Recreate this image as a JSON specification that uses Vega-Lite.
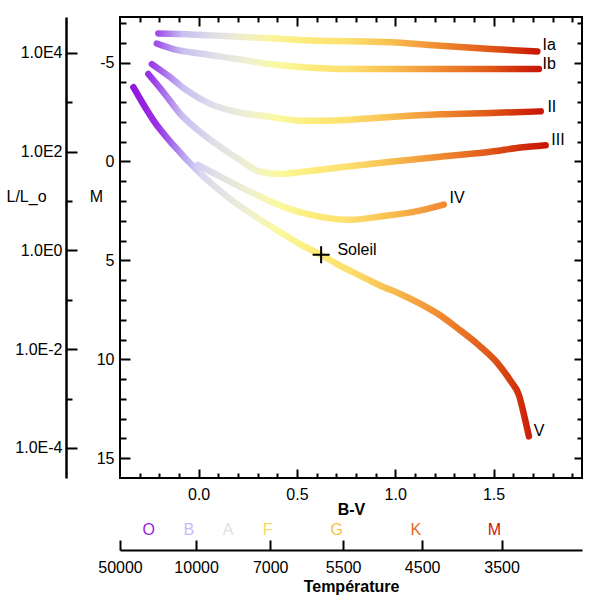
{
  "$schema": "https://vega.github.io/schema/vega-lite/v6.json",
  "width": 462,
  "height": 461,
  "autosize": {"type": "none"},
  "padding": {"left": 120, "top": 17, "right": 18, "bottom": 122},
  "config": {
    "font": "Liberation Sans",
    "view": {"stroke": "black", "strokeWidth": 2},
    "axis": {"labelColor": "black", "titleColor": "black", "tickColor": "black", "domainColor": "black", "labelFontSize": 16, "titleFontSize": 16, "grid": false, "labelFlush": false, "labelOverlap": false, "tickWidth": 2}
  },
  "datasets": {
    "curves": [
      {"cls": "Ia", "bv": -0.205, "M": -6.47}, {"cls": "Ia", "bv": -0.06, "M": -6.43}, {"cls": "Ia", "bv": 0.11, "M": -6.35}, {"cls": "Ia", "bv": 0.279, "M": -6.27}, {"cls": "Ia", "bv": 0.449, "M": -6.18}, {"cls": "Ia", "bv": 0.619, "M": -6.1}, {"cls": "Ia", "bv": 0.746, "M": -6.08}, {"cls": "Ia", "bv": 0.976, "M": -6.02}, {"cls": "Ia", "bv": 1.23, "M": -5.85}, {"cls": "Ia", "bv": 1.485, "M": -5.68}, {"cls": "Ia", "bv": 1.723, "M": -5.56},
      {"cls": "Ib", "bv": -0.213, "M": -5.96}, {"cls": "Ib", "bv": -0.128, "M": -5.68}, {"cls": "Ib", "bv": 0.024, "M": -5.43}, {"cls": "Ib", "bv": 0.195, "M": -5.18}, {"cls": "Ib", "bv": 0.364, "M": -4.92}, {"cls": "Ib", "bv": 0.534, "M": -4.76}, {"cls": "Ib", "bv": 0.772, "M": -4.67}, {"cls": "Ib", "bv": 1.23, "M": -4.67}, {"cls": "Ib", "bv": 1.731, "M": -4.67},
      {"cls": "II", "bv": -0.238, "M": -4.92}, {"cls": "II", "bv": -0.145, "M": -4.26}, {"cls": "II", "bv": -0.06, "M": -3.59}, {"cls": "II", "bv": 0.059, "M": -2.91}, {"cls": "II", "bv": 0.195, "M": -2.5}, {"cls": "II", "bv": 0.364, "M": -2.25}, {"cls": "II", "bv": 0.534, "M": -2.05}, {"cls": "II", "bv": 0.746, "M": -2.1}, {"cls": "II", "bv": 0.976, "M": -2.25}, {"cls": "II", "bv": 1.23, "M": -2.38}, {"cls": "II", "bv": 1.485, "M": -2.45}, {"cls": "II", "bv": 1.74, "M": -2.53},
      {"cls": "III", "bv": -0.256, "M": -4.42}, {"cls": "III", "bv": -0.179, "M": -3.5}, {"cls": "III", "bv": -0.094, "M": -2.41}, {"cls": "III", "bv": 0.008, "M": -1.49}, {"cls": "III", "bv": 0.11, "M": -0.74}, {"cls": "III", "bv": 0.211, "M": -0.07}, {"cls": "III", "bv": 0.313, "M": 0.52}, {"cls": "III", "bv": 0.415, "M": 0.63}, {"cls": "III", "bv": 0.534, "M": 0.52}, {"cls": "III", "bv": 0.746, "M": 0.27}, {"cls": "III", "bv": 0.976, "M": 0.02}, {"cls": "III", "bv": 1.23, "M": -0.24}, {"cls": "III", "bv": 1.485, "M": -0.49}, {"cls": "III", "bv": 1.638, "M": -0.7}, {"cls": "III", "bv": 1.765, "M": -0.82},
      {"cls": "IV", "bv": -0.004, "M": 0.18}, {"cls": "IV", "bv": 0.11, "M": 0.77}, {"cls": "IV", "bv": 0.279, "M": 1.61}, {"cls": "IV", "bv": 0.449, "M": 2.36}, {"cls": "IV", "bv": 0.619, "M": 2.8}, {"cls": "IV", "bv": 0.772, "M": 2.95}, {"cls": "IV", "bv": 0.941, "M": 2.76}, {"cls": "IV", "bv": 1.112, "M": 2.51}, {"cls": "IV", "bv": 1.247, "M": 2.18},
      {"cls": "V", "bv": -0.332, "M": -3.75}, {"cls": "V", "bv": -0.23, "M": -2.08}, {"cls": "V", "bv": -0.128, "M": -0.82}, {"cls": "V", "bv": 0.008, "M": 0.6}, {"cls": "V", "bv": 0.144, "M": 1.77}, {"cls": "V", "bv": 0.313, "M": 2.94}, {"cls": "V", "bv": 0.432, "M": 3.68}, {"cls": "V", "bv": 0.517, "M": 4.19}, {"cls": "V", "bv": 0.623, "M": 4.72}, {"cls": "V", "bv": 0.721, "M": 5.28}, {"cls": "V", "bv": 0.823, "M": 5.78}, {"cls": "V", "bv": 0.925, "M": 6.28}, {"cls": "V", "bv": 1.026, "M": 6.7}, {"cls": "V", "bv": 1.128, "M": 7.2}, {"cls": "V", "bv": 1.23, "M": 7.79}, {"cls": "V", "bv": 1.315, "M": 8.42}, {"cls": "V", "bv": 1.417, "M": 9.22}, {"cls": "V", "bv": 1.519, "M": 10.18}, {"cls": "V", "bv": 1.587, "M": 11.1}, {"cls": "V", "bv": 1.629, "M": 11.81}, {"cls": "V", "bv": 1.655, "M": 12.81}, {"cls": "V", "bv": 1.68, "M": 13.9}
    ],
    "labels": [
      {"label": "Ia", "bv": 1.749, "M": -5.86},
      {"label": "Ib", "bv": 1.749, "M": -4.9},
      {"label": "II", "bv": 1.774, "M": -2.75},
      {"label": "III", "bv": 1.794, "M": -1.07},
      {"label": "IV", "bv": 1.276, "M": 1.87},
      {"label": "V", "bv": 1.704, "M": 13.61},
      {"label": "Soleil", "bv": 0.706, "M": 4.49}
    ],
    "sun": [{"name": "Soleil", "bv": 0.623, "M": 4.72}]
  },
  "layer": [
    {
      "encoding": {
        "x": {"field": "bv", "type": "quantitative", "scale": {"domain": [-0.4, 1.95], "nice": false, "zero": false},
          "axis": {"orient": "bottom", "values": [-0.3,-0.2,-0.1,0,0.1,0.2,0.3,0.4,0.5,0.6,0.7,0.8,0.9,1,1.1,1.2,1.3,1.4,1.5,1.6,1.7,1.8,1.9],
            "labelExpr": "abs(datum.value*2-round(datum.value*2))<0.001 ? format(datum.value,'.1f') : ''",
            "tickSize": {"condition": {"test": "abs(datum.value*2-round(datum.value*2))<0.001", "value": -9}, "value": -5},
            "domain": false, "labelPadding": 17, "title": "B-V", "titleFontWeight": "bold", "titleY": 31, "titleBaseline": "middle", "titleAlign": "center"}},
        "y": {"field": "M", "type": "quantitative", "scale": {"domain": [-7.3, 16], "reverse": true, "nice": false, "zero": false},
          "axis": {"orient": "left", "values": [-7,-6,-5,-4,-3,-2,-1,0,1,2,3,4,5,6,7,8,9,10,11,12,13,14,15],
            "labelExpr": "datum.value % 5 == 0 ? '' + datum.value : ''",
            "tickSize": {"condition": {"test": "datum.value % 5 == 0", "value": -10}, "value": -6},
            "domain": false, "labelPadding": 16, "title": "M", "titleAngle": 0, "titleX": -24, "titleY": 179.5, "titleAlign": "center", "titleBaseline": "middle", "titleFontWeight": "normal"}}
      },
      "layer": [
        {"data": {"name": "curves"}, "transform": [{"filter": "datum.cls == 'Ia'"}],
          "mark": {"type": "line", "interpolate": "monotone", "strokeWidth": 6.5, "strokeCap": "round",
            "stroke": {"gradient": "linear", "x1": 0, "y1": 0, "x2": 1, "y2": 0, "stops": [
              {"offset": 0, "color": "#a050e8"}, {"offset": 0.065, "color": "#c8c0f0"}, {"offset": 0.15, "color": "#e0e0e8"}, {"offset": 0.23, "color": "#f0f0c8"}, {"offset": 0.3, "color": "#fbf59a"}, {"offset": 0.4, "color": "#fdea78"}, {"offset": 0.495, "color": "#fde070"}, {"offset": 0.609, "color": "#f8c050"}, {"offset": 0.687, "color": "#f4a040"}, {"offset": 0.744, "color": "#f08a30"}, {"offset": 0.874, "color": "#e05818"}, {"offset": 0.962, "color": "#d02a0a"}, {"offset": 1, "color": "#c81808"}]}}},
        {"data": {"name": "curves"}, "transform": [{"filter": "datum.cls == 'Ib'"}],
          "mark": {"type": "line", "interpolate": "monotone", "strokeWidth": 6.5, "strokeCap": "round",
            "stroke": {"gradient": "linear", "x1": 0, "y1": 0, "x2": 1, "y2": 0, "stops": [
              {"offset": 0, "color": "#a050e8"}, {"offset": 0.068, "color": "#c8c0f0"}, {"offset": 0.156, "color": "#e0e0e8"}, {"offset": 0.243, "color": "#f0f0d0"}, {"offset": 0.315, "color": "#fafaa0"}, {"offset": 0.418, "color": "#fdea78"}, {"offset": 0.495, "color": "#fde070"}, {"offset": 0.609, "color": "#f8c050"}, {"offset": 0.686, "color": "#f4a040"}, {"offset": 0.742, "color": "#f08a30"}, {"offset": 0.871, "color": "#e05818"}, {"offset": 0.958, "color": "#d02a0a"}, {"offset": 1, "color": "#c81808"}]}}},
        {"data": {"name": "curves"}, "transform": [{"filter": "datum.cls == 'II'"}],
          "mark": {"type": "line", "interpolate": "monotone", "strokeWidth": 6.5, "strokeCap": "round",
            "stroke": {"gradient": "linear", "x1": 0, "y1": 0, "x2": 1, "y2": 0, "stops": [
              {"offset": 0, "color": "#9c40e6"}, {"offset": 0.014, "color": "#a050e8"}, {"offset": 0.08, "color": "#c8c0f0"}, {"offset": 0.166, "color": "#e0e0e8"}, {"offset": 0.252, "color": "#f0f0d0"}, {"offset": 0.323, "color": "#fafaa0"}, {"offset": 0.424, "color": "#fdea78"}, {"offset": 0.5, "color": "#fde070"}, {"offset": 0.611, "color": "#f8c050"}, {"offset": 0.687, "color": "#f4a040"}, {"offset": 0.742, "color": "#f08a30"}, {"offset": 0.869, "color": "#e05818"}, {"offset": 0.955, "color": "#d02a0a"}, {"offset": 1, "color": "#c81808"}]}}},
        {"data": {"name": "curves"}, "transform": [{"filter": "datum.cls == 'III'"}],
          "mark": {"type": "line", "interpolate": "monotone", "strokeWidth": 6.5, "strokeCap": "round",
            "stroke": {"gradient": "linear", "x1": 0, "y1": 0, "x2": 1, "y2": 0, "stops": [
              {"offset": 0, "color": "#9830e4"}, {"offset": 0.023, "color": "#a050e8"}, {"offset": 0.087, "color": "#c8c0f0"}, {"offset": 0.171, "color": "#e0e0e8"}, {"offset": 0.255, "color": "#f0f0d0"}, {"offset": 0.325, "color": "#fafaa0"}, {"offset": 0.424, "color": "#fdea78"}, {"offset": 0.498, "color": "#fde070"}, {"offset": 0.607, "color": "#f8c050"}, {"offset": 0.681, "color": "#f4a040"}, {"offset": 0.735, "color": "#f08a30"}, {"offset": 0.859, "color": "#e05818"}, {"offset": 0.943, "color": "#d02a0a"}, {"offset": 1, "color": "#c81808"}]}}},
        {"data": {"name": "curves"}, "transform": [{"filter": "datum.cls == 'IV'"}],
          "mark": {"type": "line", "interpolate": "monotone", "strokeWidth": 6.5, "strokeCap": "round",
            "stroke": {"gradient": "linear", "x1": 0, "y1": 0, "x2": 1, "y2": 0, "stops": [
              {"offset": 0, "color": "#d4d0f0"}, {"offset": 0.075, "color": "#e0e0e8"}, {"offset": 0.211, "color": "#f0f0d0"}, {"offset": 0.323, "color": "#fafaa0"}, {"offset": 0.483, "color": "#fdea78"}, {"offset": 0.603, "color": "#fde070"}, {"offset": 0.779, "color": "#f8c050"}, {"offset": 0.898, "color": "#f4a040"}, {"offset": 1, "color": "#f08a30"}]}}},
        {"data": {"name": "curves"}, "transform": [{"filter": "datum.cls == 'V'"}],
          "mark": {"type": "line", "interpolate": "monotone", "strokeWidth": 6.5, "strokeCap": "round",
            "stroke": {"gradient": "linear", "x1": 0, "y1": 0, "x2": 1, "y2": 0, "stops": [
              {"offset": 0, "color": "#9018e0"}, {"offset": 0.06, "color": "#9a30e4"}, {"offset": 0.09, "color": "#a060e8"}, {"offset": 0.135, "color": "#c0b0f0"}, {"offset": 0.17, "color": "#d8d8f0"}, {"offset": 0.21, "color": "#e0e0e8"}, {"offset": 0.294, "color": "#f0f0d0"}, {"offset": 0.364, "color": "#fafaa0"}, {"offset": 0.463, "color": "#fdea78"}, {"offset": 0.538, "color": "#fde070"}, {"offset": 0.647, "color": "#f8c050"}, {"offset": 0.722, "color": "#f4a040"}, {"offset": 0.776, "color": "#f08a30"}, {"offset": 0.901, "color": "#e05818"}, {"offset": 0.985, "color": "#d02a0a"}, {"offset": 1, "color": "#cc2010"}]}}},
        {"data": {"name": "labels"},
          "mark": {"type": "text", "align": "left", "baseline": "middle", "fontSize": 16, "color": "black", "font": "Liberation Sans"},
          "encoding": {"text": {"field": "label"}}},
        {"data": {"name": "sun"},
          "mark": {"type": "point", "shape": "M-1,0H1M0,-1V1", "size": 289, "filled": false, "stroke": "black", "strokeWidth": 2, "opacity": 1}}
      ]
    },
    {
      "data": {"name": "curves"},
      "mark": {"type": "point", "opacity": 0},
      "encoding": {
        "x": {"field": "bv", "type": "quantitative", "scale": {"domain": [-0.4, 1.95], "nice": false, "zero": false},
          "axis": {"orient": "top", "values": [-0.3,-0.2,-0.1,0,0.1,0.2,0.3,0.4,0.5,0.6,0.7,0.8,0.9,1,1.1,1.2,1.3,1.4,1.5,1.6,1.7,1.8,1.9],
            "labels": false, "domain": false, "title": null,
            "tickSize": {"condition": {"test": "abs(datum.value*2-round(datum.value*2))<0.001", "value": -9}, "value": -5}}},
        "y": {"field": "M", "type": "quantitative", "scale": {"domain": [-7.3, 16], "reverse": true, "nice": false, "zero": false},
          "axis": {"orient": "right", "values": [-7,-6,-5,-4,-3,-2,-1,0,1,2,3,4,5,6,7,8,9,10,11,12,13,14,15],
            "labels": false, "domain": false, "title": null,
            "tickSize": {"condition": {"test": "datum.value % 5 == 0", "value": -8}, "value": -5}}}
      }
    },
    {
      "data": {"name": "curves"},
      "mark": {"type": "point", "opacity": 0},
      "encoding": {
        "x": {"field": "bv", "type": "quantitative", "scale": {"domain": [-0.4, 1.95], "nice": false, "zero": false},
          "axis": {"orient": "bottom", "offset": 72, "values": [-0.4, -0.013, 0.364, 0.735, 1.137, 1.541],
            "labelExpr": "['50000','10000','7000','5500','4500','3500'][indexof([-0.4, -0.013, 0.364, 0.735, 1.137, 1.541], datum.value)]",
            "tickSize": -10, "domain": true, "domainWidth": 2, "labelPadding": 19,
            "title": "Température", "titleFontWeight": "bold", "titleY": 36, "titleBaseline": "middle", "titleAlign": "center"}},
        "y": {"field": "logL", "type": "quantitative", "scale": {"domain": [-4.61, 4.727], "nice": false, "zero": false},
          "axis": {"orient": "left", "offset": 54, "values": [-4,-3,-2,-1,0,1,2,3,4],
            "labelExpr": "datum.value % 2 == 0 ? '1.0E' + datum.value : ''",
            "tickSize": {"condition": {"test": "datum.value % 2 == 0", "value": -11}, "value": -6},
            "domain": true, "domainWidth": 2.5, "labelPadding": 15,
            "title": "L/L_o", "titleAngle": 0, "titleX": -40, "titleY": 179.5, "titleAlign": "center", "titleBaseline": "middle", "titleFontWeight": "normal"}}
      }
    },
    {
      "data": {"name": "curves"},
      "mark": {"type": "point", "opacity": 0},
      "encoding": {
        "x": {"field": "bv", "type": "quantitative", "scale": {"domain": [-0.4, 1.95], "nice": false, "zero": false},
          "axis": {"orient": "bottom", "offset": 51, "values": [-0.256, -0.052, 0.147, 0.348, 0.7, 1.102, 1.502],
            "labelExpr": "['O','B','A','F','G','K','M'][indexof([-0.256, -0.052, 0.147, 0.348, 0.7, 1.102, 1.502], datum.value)]",
            "ticks": false, "tickSize": 0, "domain": false, "labelPadding": 0, "labelBaseline": "middle", "labelFontSize": 16, "title": null,
            "labelColor": {"condition": [
              {"test": "datum.value == -0.256", "value": "#9a1ae0"},
              {"test": "datum.value == -0.052", "value": "#c4bcf8"},
              {"test": "datum.value == 0.147", "value": "#e0e0e0"},
              {"test": "datum.value == 0.348", "value": "#f8d860"},
              {"test": "datum.value == 0.7", "value": "#f8c048"},
              {"test": "datum.value == 1.102", "value": "#e86818"},
              {"test": "datum.value == 1.502", "value": "#c81808"}], "value": "black"}}}
      }
    }
  ],
  "resolve": {"scale": {"y": "independent"}, "axis": {"x": "independent", "y": "independent"}}
}
